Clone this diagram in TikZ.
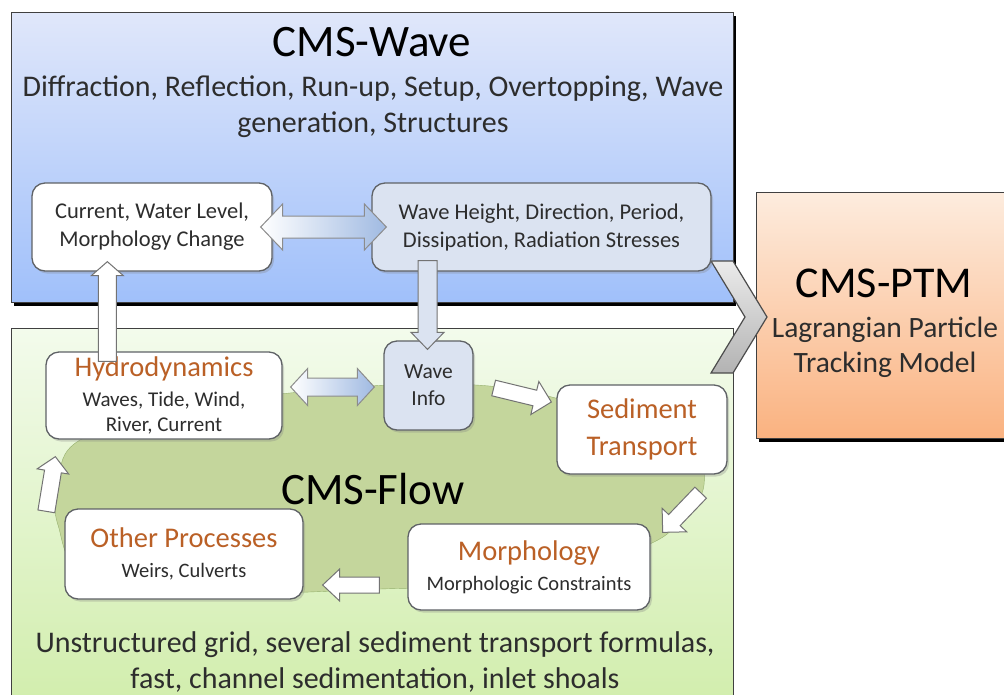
\documentclass[tikz,border=0pt]{standalone}
\usepackage{fontspec}
\setmainfont{Carlito}
\usetikzlibrary{calc,shadows}
\definecolor{wavetop}{RGB}{224,231,250}
\definecolor{wavebot}{RGB}{160,192,250}
\definecolor{flowtop}{RGB}{243,251,236}
\definecolor{flowbot}{RGB}{208,237,170}
\definecolor{ptmtop}{RGB}{253,236,222}
\definecolor{ptmbot}{RGB}{250,178,128}
\definecolor{blobfill}{RGB}{196,214,156}
\definecolor{blobline}{RGB}{150,176,110}
\definecolor{infofill}{RGB}{219,227,241}
\definecolor{boxline}{RGB}{95,98,102}
\definecolor{otitle}{RGB}{186,96,38}
\definecolor{bodytext}{RGB}{45,45,45}
\definecolor{dblblue}{RGB}{160,186,226}
\newcommand\ttl[1]{{\color{otitle}\fontsize{28.5}{32}\selectfont #1}}
% fat arrow: style, start, end, half shaft, half head, head length
\newcommand\blockarrow[6]{%
  \coordinate (ba-s) at (#2);
  \coordinate (ba-e) at (#3);
  \coordinate (ba-h) at ($(ba-e)!#6!(ba-s)$);
  \path[#1] ($(ba-s)!#4!90:(ba-e)$) -- ($(ba-h)!#4!-90:(ba-s)$)
    -- ($(ba-h)!#5!-90:(ba-s)$) -- (ba-e) -- ($(ba-h)!#5!90:(ba-s)$)
    -- ($(ba-h)!#4!90:(ba-s)$) -- ($(ba-s)!#4!-90:(ba-e)$) -- cycle;}
\newcommand\dblarrow[6]{%
  \coordinate (da-s) at (#2);
  \coordinate (da-e) at (#3);
  \coordinate (da-a) at ($(da-s)!#6!(da-e)$);
  \coordinate (da-b) at ($(da-e)!#6!(da-s)$);
  \path[#1] (da-s) -- ($(da-a)!#5!90:(da-e)$) -- ($(da-a)!#4!90:(da-e)$)
    -- ($(da-b)!#4!-90:(da-s)$) -- ($(da-b)!#5!-90:(da-s)$) -- (da-e)
    -- ($(da-b)!#5!90:(da-s)$) -- ($(da-b)!#4!90:(da-s)$)
    -- ($(da-a)!#4!-90:(da-e)$) -- ($(da-a)!#5!-90:(da-e)$) -- cycle;}
\begin{document}
\begin{tikzpicture}[
x=1pt,y=-1pt,
panel/.style={draw=black!75,line width=1pt},
box/.style={rectangle,rounded corners=13pt,draw=boxline,line width=1.3pt,fill=white,
  drop shadow={shadow xshift=2pt,shadow yshift=-2.5pt,opacity=.3},
  align=center,text=bodytext,font=\fontsize{22.5}{28}\selectfont},
whitearrow/.style={draw=black!55,line width=1pt,fill=white},
infoarrow/.style={draw=black!55,line width=1pt,fill=infofill},
dblshade/.style={draw=black!45,line width=1pt,left color=white,right color=dblblue},
]
\clip (0,0) rectangle (1004,694);
% panels
\fill[black] (14,16) rectangle (736,306);
\draw[panel,top color=wavetop,bottom color=wavebot] (11,12) rectangle (733,302);
\draw[panel,top color=flowtop,bottom color=flowbot] (11,328) rectangle (733,720);
\fill[black] (759,196) rectangle (1010,442);
\draw[panel,top color=ptmtop,bottom color=ptmbot] (756,192) rectangle (1010,438);
\draw[blobline,fill=blobfill] plot[smooth cycle,tension=.6] coordinates {
  (80,440) (180,408) (300,392) (420,384) (520,390) (620,418) (690,445)
  (704,485) (682,520) (640,548) (520,582) (380,589) (220,593) (90,578)
  (58,525) (58,480)};
\shade[draw=black!70,line width=1.2pt,top color=black!8,bottom color=black!30]
  (711,261) -- (733,261) -- (767,317) -- (733,373) -- (711,373) -- (745,317) -- cycle;

\node[font=\fontsize{45}{50}\selectfont] (wavettl) at (372,42) {CMS-Wave};
\node[font=\fontsize{30}{36}\selectfont,align=center,text=bodytext] (wavetxt) at (373,107)
  {Diffraction, Reflection, Run-up, Setup, Overtopping, Wave\\generation, Structures};
\node[font=\fontsize{45}{50}\selectfont] (flowttl) at (373,489) {CMS-Flow};
\node[font=\fontsize{30}{36}\selectfont,align=center,text=bodytext] (flowtxt) at (375,662)
  {Unstructured grid, several sediment transport formulas,\\fast, channel sedimentation, inlet shoals};
\node[font=\fontsize{44}{50}\selectfont] (ptmttl) at (884,283) {CMS-PTM};
\node[font=\fontsize{29.5}{35}\selectfont,align=center,text=bodytext] (ptmtxt) at (885,347)
  {Lagrangian Particle\\Tracking Model};

\node[box,minimum width=240pt,minimum height=88pt] (cur) at (152,227)
  {Current, Water Level,\\Morphology Change};
\node[box,fill=infofill,minimum width=339pt,minimum height=88pt] (wht) at (541.5,227)
  {Wave Height, Direction, Period,\\Dissipation, Radiation Stresses};
\node[box,minimum width=236pt,minimum height=87pt,font=\fontsize{21}{25}\selectfont] (hydro) at (164,395.5)
  {\ttl{Hydrodynamics}\\[5pt]Waves, Tide, Wind,\\River, Current};
\node[box,fill=infofill,minimum width=89pt,minimum height=89pt,font=\fontsize{21.5}{27}\selectfont] (winfo) at (428.5,385.5)
  {Wave\\Info};
\node[box,minimum width=170pt,minimum height=89pt,text=otitle,font=\fontsize{28.5}{37}\selectfont] (sed) at (642,429.5)
  {Sediment\\Transport};
\node[box,minimum width=242pt,minimum height=86pt,font=\fontsize{20.5}{25}\selectfont] (morph) at (529,567)
  {\ttl{Morphology}\\[5pt]Morphologic Constraints};
\node[box,minimum width=238pt,minimum height=90pt,font=\fontsize{20.5}{25}\selectfont] (other) at (184,554)
  {\ttl{Other Processes}\\[5pt]Weirs, Culverts};

\dblarrow{dblshade}{$(cur.east)+(-12,0)$}{$(wht.west)+(15,0)$}{11pt}{23pt}{22pt}
\dblarrow{dblshade}{$(hydro.east |- winfo.west)+(8,1.5)$}{$(winfo.west)+(-9,1.5)$}{9pt}{18.5pt}{17pt}
\blockarrow{whitearrow}{$(hydro.north west)+(62,10)$}{$(cur.south west)+(76,-10)$}{9pt}{16pt}{14pt}
\blockarrow{infoarrow}{$(winfo.north |- wht.south)+(-1,-11)$}{$(winfo.north)+(-1,9)$}{9.5pt}{16.5pt}{17pt}
\blockarrow{whitearrow}{$(winfo.east)+(20,2.5)$}{$(sed.west)+(-5,-27.5)$}{8pt}{17pt}{17pt}
\blockarrow{whitearrow}{$(sed.south east)+(-27,18)$}{$(morph.north east)+(12,9)$}{8pt}{17pt}{17pt}
\blockarrow{whitearrow}{$(morph.west)+(-28,18)$}{$(other.east)+(19,31)$}{8pt}{16pt}{17pt}
\blockarrow{whitearrow}{$(other.north west)+(-18,3)$}{$(hydro.south west)+(10,17)$}{8.5pt}{16pt}{15pt}
\end{tikzpicture}
\end{document}
